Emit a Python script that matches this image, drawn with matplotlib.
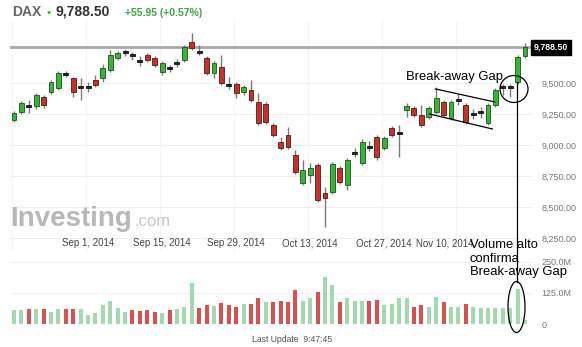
import matplotlib.pyplot as plt
from matplotlib.patches import Ellipse
from matplotlib.transforms import blended_transform_factory

plt.rcParams['font.family'] = ['Liberation Sans', 'DejaVu Sans']

W, H = 582, 347

# DAX daily candles, Aug 18 - Nov 24 2014
opens = [9202, 9266, 9323, 9315, 9387, 9427, 9460, 9581, 9540, 9476,
         9476, 9524, 9540, 9605, 9702, 9758, 9734, 9685, 9726, 9702,
         9589, 9629, 9669, 9685, 9831, 9758, 9702, 9581, 9629, 9492,
         9492, 9427, 9444, 9347, 9331, 9161, 9024, 9081, 8919, 8694,
         8758, 8839, 8613, 8621, 8815, 8677, 8944, 8855, 8992, 9065,
         8976, 9137, 9105, 9282, 9298, 9242, 9226, 9266, 9347, 9218,
         9371, 9323, 9258, 9274, 9177, 9323, 9476, 9476, 9508, 9718]
highs = [9274, 9355, 9363, 9419, 9403, 9524, 9597, 9597, 9548, 9540,
         9508, 9565, 9653, 9766, 9758, 9774, 9750, 9718, 9742, 9718,
         9677, 9645, 9694, 9806, 9903, 9806, 9718, 9677, 9726, 9548,
         9508, 9484, 9524, 9419, 9347, 9177, 9065, 9145, 8960, 8879,
         8855, 8855, 8661, 8863, 8831, 8895, 8976, 9048, 9032, 9081,
         9073, 9153, 9161, 9339, 9315, 9323, 9315, 9468, 9363, 9363,
         9411, 9339, 9290, 9306, 9339, 9460, 9492, 9492, 9726, 9823]
lows = [9185, 9250, 9258, 9290, 9298, 9411, 9444, 9548, 9387, 9363,
        9427, 9468, 9508, 9589, 9685, 9718, 9685, 9637, 9669, 9629,
        9565, 9589, 9629, 9669, 9766, 9726, 9565, 9540, 9484, 9452,
        9379, 9403, 9347, 9161, 9169, 9065, 8960, 8968, 8766, 8677,
        8694, 8540, 8339, 8605, 8685, 8637, 8903, 8839, 8952, 8879,
        8960, 9065, 8903, 9226, 9226, 9145, 9210, 9250, 9226, 9202,
        9323, 9169, 9210, 9218, 9161, 9306, 9403, 9387, 9492, 9702]
closes = [9258, 9339, 9306, 9403, 9323, 9508, 9581, 9565, 9427, 9460,
          9460, 9484, 9621, 9726, 9742, 9742, 9718, 9669, 9685, 9645,
          9661, 9613, 9653, 9790, 9782, 9742, 9581, 9661, 9500, 9476,
          9419, 9468, 9363, 9177, 9185, 9081, 8976, 8984, 8782, 8798,
          8815, 8556, 8573, 8847, 8702, 8879, 8927, 9024, 8976, 8903,
          9056, 9081, 9089, 9315, 9242, 9161, 9298, 9379, 9242, 9347,
          9355, 9185, 9242, 9258, 9323, 9444, 9460, 9460, 9710, 9788.5]

# volume in millions, G = up day, R = down day
volume = [56, 56, 59, 59, 61, 49, 60, 60, 60, 60,
          36, 45, 76, 92, 65, 49, 56, 53, 56, 49,
          45, 56, 59, 67, 165, 63, 76, 72, 85, 76,
          69, 80, 80, 103, 89, 89, 93, 89, 139, 93,
          103, 129, 189, 156, 89, 103, 93, 93, 93, 96,
          76, 80, 103, 103, 69, 76, 69, 107, 89, 67,
          67, 80, 67, 63, 63, 63, 63, 63, 143, 16]
vol_dir = "GGRGRGGRRGGGGGGGRRRRGRGGGRRGRRRGRRGRRRRGGRGGRGGGRRGGGGRRGGRGGRGGGGGGGG"

date_pos = [10, 20, 30, 40, 50, 58.2]
date_labels = ['Sep 1, 2014', 'Sep 15, 2014', 'Sep 29, 2014',
               'Oct 13, 2014', 'Oct 27, 2014', 'Nov 10, 2014']
price_ticks = [8250, 8500, 8750, 9000, 9250, 9500]
vol_ticks = [0, 125, 250]
last_price = 9788.50

# falling channel before the gap (index, price)
chan_upper = [(56.9, 9452), (64.9, 9347)]
chan_lower = [(56.1, 9250), (64.6, 9129)]

fig = plt.figure(figsize=(W / 100, H / 100), dpi=100)
fig.patch.set_facecolor('white')


def px_axes(x0, y0, x1, y1):
    return fig.add_axes([x0 / W, 1 - y1 / H, (x1 - x0) / W, (y1 - y0) / H])


step = 7.406
xlim = (-4 / step, 518 / step)

# ---- price panel ----
ax = px_axes(10, 20, 532, 252)
ax.set_xlim(*xlim)
ax.set_ylim(8137, 10008)
for s in ax.spines.values():
    s.set_visible(False)
ax.set_xticks([])
ax.yaxis.tick_right()
ax.set_yticks(price_ticks)
ax.set_yticklabels([f'{p:,.2f}' for p in price_ticks], fontsize=6.5, color='#777777')
ax.tick_params(axis='y', length=0, pad=7)
for p in price_ticks:
    ax.axhline(p, color='#eeeeee', lw=0.8, zorder=0)
for i in range(0, 70, 10):
    ax.axvline(i - 0.3, color='#f4f4f4', lw=0.8, zorder=0)

ax.axhline(last_price, color='#a8a8a8', lw=2, zorder=0.5)

xs = list(range(len(opens)))
ax.vlines(xs, lows, highs, color='#7a7a7a', lw=1, zorder=1)
for i in xs:
    o, c = opens[i], closes[i]
    if abs(c - o) < 20:
        fc, ec = '#222222', '#111111'
    elif c > o:
        fc, ec = '#36b536', '#1f4f1f'
    else:
        fc, ec = '#c8302c', '#4f1a1a'
    ax.bar(i, max(abs(c - o), 12), bottom=min(o, c), width=0.66,
           color=fc, edgecolor=ec, linewidth=0.6, zorder=2)

ax.text(1.0 + 2 / 522, last_price, f'{last_price:,.2f}',
        transform=blended_transform_factory(ax.transAxes, ax.transData),
        color='white', fontsize=6.3, fontweight='bold', va='center', ha='left',
        bbox=dict(boxstyle='square,pad=0.35', fc='black', ec='black'))

for pts in (chan_upper, chan_lower):
    ax.plot([pts[0][0], pts[1][0]], [pts[0][1], pts[1][1]], color='black', lw=0.9, zorder=3)

dtr = blended_transform_factory(ax.transData, fig.transFigure)
for pos, lab in zip(date_pos, date_labels):
    ax.text(pos, 1 - 243 / H, lab, transform=dtr, ha='center', va='center',
            fontsize=7, color='#444444')

# ---- volume panel ----
axv = px_axes(10, 256, 532, 328)
axv.set_xlim(*xlim)
axv.set_ylim(-16, 274)
for s in axv.spines.values():
    s.set_visible(False)
axv.set_xticks([])
axv.yaxis.tick_right()
axv.set_yticks(vol_ticks)
axv.set_yticklabels(['0', '125.0M', '250.0M'], fontsize=6.5, color='#777777')
axv.tick_params(axis='y', length=0, pad=7)
for v in vol_ticks[1:]:
    axv.axhline(v, color='#f0f0f0', lw=0.8, zorder=0)
vcol = ['#a3d9b1' if d == 'G' else '#d85050' for d in vol_dir]
axv.bar(xs, volume, width=0.54, color=vcol, zorder=2)

# ---- header and watermark ----
fig.text(12 / W, 1 - 16 / H, 'DAX', fontsize=10, fontweight='bold', color='#666666', va='baseline')
fig.text(46 / W, 1 - 14.5 / H, '\u25cf', fontsize=5, color='#2fb52f', va='baseline')
fig.text(55 / W, 1 - 16 / H, '9,788.50', fontsize=10, fontweight='bold', color='#333333', va='baseline')
fig.text(125 / W, 1 - 15.5 / H, '+55.95 (+0.57%)', fontsize=7.5, fontweight='bold',
         color='#3aa83a', va='baseline')
fig.text(10 / W, 1 - 226 / H, 'Investing', fontsize=20, fontweight='bold', color='#b8b8b8', va='baseline')
fig.text(134 / W, 1 - 226 / H, '.com', fontsize=12, color='#c8c8c8', va='baseline')
fig.text(292 / W, 1 - 339 / H, 'Last Update  9:47:45', fontsize=6.2, color='#555555',
         ha='center', va='center')

# ---- hand-drawn annotations (pixel overlay) ----
ov = fig.add_axes([0, 0, 1, 1])
ov.set_xlim(0, W)
ov.set_ylim(H, 0)
ov.axis('off')
ov.patch.set_alpha(0)
ov.add_patch(Ellipse((514, 89), 28, 27, fill=False, ec='black', lw=0.9))
ov.add_patch(Ellipse((516.5, 307), 17, 51, fill=False, ec='black', lw=0.9))
ov.plot([517, 517], [82, 282], color='black', lw=0.9)
ov.text(406, 80, 'Break-away Gap', fontsize=9.4, color='black', va='baseline')
ov.text(470, 248, 'Volume alto', fontsize=9.4, color='black', va='baseline')
ov.text(470, 261.5, 'confirma', fontsize=9.4, color='black', va='baseline')
ov.text(470, 275, 'Break-away Gap', fontsize=9.4, color='black', va='baseline')

fig.savefig('out.png', dpi=100, facecolor='white')
